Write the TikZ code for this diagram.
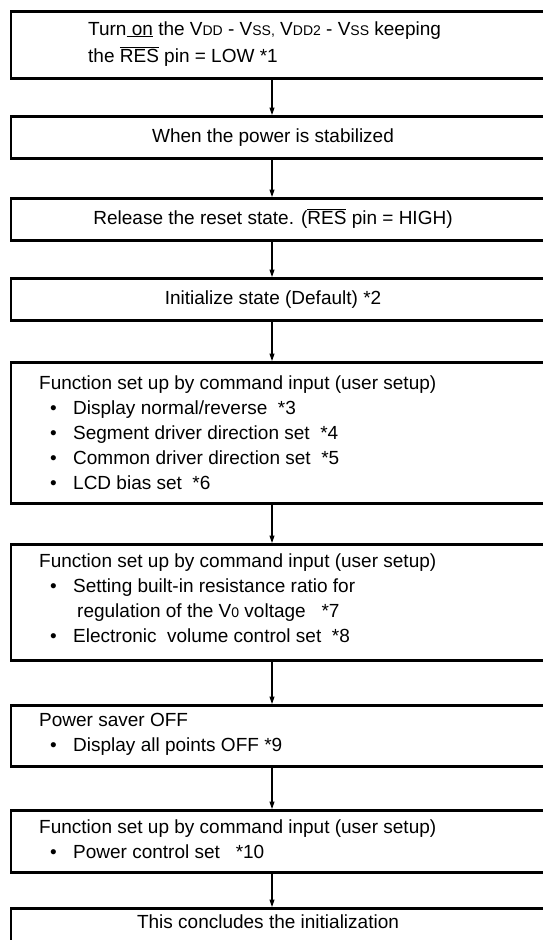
\documentclass[tikz,border=0pt]{standalone}
\usepackage{fontspec}
\setmainfont{Liberation Sans}
\usetikzlibrary{arrows.meta}
\newcommand\smv[1]{{\fontsize{14}{14}\selectfont #1}}
\newcommand\resbar{$\overline{\hbox{RES}}$}
\newcommand\bul{\makebox[23pt][l]{•}}
\tikzset{
  box/.style={draw, line width=2.7pt, rectangle, anchor=north west, minimum width=551pt, inner sep=0pt},
  txt/.style={font=\fontsize{19}{25}\selectfont, inner sep=0pt},
  lt/.style={txt, anchor=base west},
  ct/.style={txt, anchor=base},
  arr/.style={line width=1.1pt, -{Triangle[length=7.5pt,width=5pt]}}
}
\begin{document}
\begin{tikzpicture}[x=1pt,y=-1pt]
\useasboundingbox (0,0) rectangle (543,940);
\fill[white] (0,0) rectangle (543,940);
\clip (0,0) rectangle (543,940);
% boxes
\node[box, minimum height=67pt] (b1) at (9.5,10) {};
\node[box, minimum height=42pt] (b2) at (9.5,115) {};
\node[box, minimum height=42pt] (b3) at (9.5,197) {};
\node[box, minimum height=42pt] (b4) at (9.5,277) {};
\node[box, minimum height=141pt] (b5) at (9.5,361) {};
\node[box, minimum height=116pt] (b6) at (9.5,543) {};
\node[box, minimum height=61pt] (b7) at (9.5,704) {};
\node[box, minimum height=62pt] (b8) at (9.5,809) {};
\node[box, minimum height=60pt] (b9) at (9.5,907) {};
% arrows
\coordinate (c1) at (272,77);  \coordinate (d2) at (272,115);
\coordinate (c2) at (272,157); \coordinate (d3) at (272,197);
\coordinate (c3) at (272,239); \coordinate (d4) at (272,277);
\coordinate (c4) at (272,319); \coordinate (d5) at (272,361);
\coordinate (c5) at (272,502); \coordinate (d6) at (272,543);
\coordinate (c6) at (272,659); \coordinate (d7) at (272,704);
\coordinate (c7) at (272,765); \coordinate (d8) at (272,809);
\coordinate (c8) at (272,871); \coordinate (d9) at (272,907);
\draw[arr] (c1) -- (d2);
\draw[arr] (c2) -- (d3);
\draw[arr] (c3) -- (d4);
\draw[arr] (c4) -- (d5);
\draw[arr] (c5) -- (d6);
\draw[arr] (c6) -- (d7);
\draw[arr] (c7) -- (d8);
\draw[arr] (c8) -- (d9);
% texts
\node[lt] (t1a) at (88,35) {Turn\underline{ on} the V\smv{DD} - V\smv{SS,} V\smv{DD2} - V\smv{SS} keeping};
\node[lt] (t1b) at (88,62) {the \resbar{} pin = LOW *1};
\node[ct] (t2) at (273,142) {When the power is stabilized};
\node[ct] (t3) at (273,224) {Release the reset state. (\resbar{} pin = HIGH)};
\node[ct] (t4) at (273,304) {Initialize state (Default) *2};
\node[lt] (t5a) at (39,389) {Function set up by command input (user setup)};
\node[lt] (t5b) at (50,414) {\bul Display normal/reverse\ \ *3};
\node[lt] (t5c) at (50,439) {\bul Segment driver direction set\ \ *4};
\node[lt] (t5d) at (50,464) {\bul Common driver direction set\ \ *5};
\node[lt] (t5e) at (50,489) {\bul LCD bias set\ \ *6};
\node[lt] (t6a) at (39,567) {Function set up by command input (user setup)};
\node[lt] (t6b) at (50,592) {\bul Setting built-in resistance ratio for};
\node[lt] (t6c) at (77,617) {regulation of the V\smv{0} voltage\ \ \ *7};
\node[lt] (t6d) at (50,642) {\bul Electronic\ \ volume control set\ \ *8};
\node[lt] (t7a) at (39,726) {Power saver OFF};
\node[lt] (t7b) at (50,751) {\bul Display all points OFF *9};
\node[lt] (t8a) at (39,833) {Function set up by command input (user setup)};
\node[lt] (t8b) at (50,858) {\bul Power control set\ \ \ *10};
\node[ct] (t9) at (268,928) {This concludes the initialization};
\end{tikzpicture}
\end{document}
